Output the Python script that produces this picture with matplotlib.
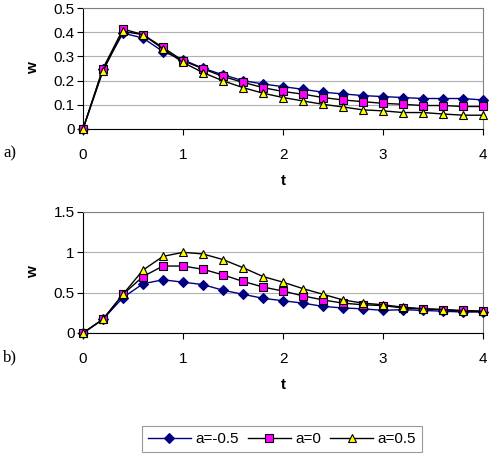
import matplotlib
matplotlib.use("Agg")
import matplotlib.pyplot as plt

t = [round(0.2 * i, 1) for i in range(21)]

# panel a)
wa_m05 = [0, 0.25, 0.396, 0.376, 0.32, 0.286, 0.251, 0.224, 0.2, 0.186, 0.175,
          0.164, 0.152, 0.145, 0.138, 0.134, 0.13, 0.126, 0.126, 0.126, 0.12]
wa_0 = [0, 0.25, 0.413, 0.39, 0.337, 0.282, 0.249, 0.217, 0.193, 0.171, 0.155,
        0.144, 0.13, 0.12, 0.113, 0.106, 0.102, 0.097, 0.097, 0.093, 0.093]
wa_05 = [0, 0.24, 0.403, 0.39, 0.331, 0.275, 0.233, 0.199, 0.171, 0.148, 0.13,
         0.116, 0.102, 0.091, 0.079, 0.075, 0.068, 0.068, 0.062, 0.057, 0.057]

# panel b)
wb_m05 = [0, 0.17, 0.44, 0.61, 0.66, 0.63, 0.6, 0.53, 0.48, 0.43, 0.40,
          0.37, 0.33, 0.31, 0.30, 0.28, 0.29, 0.28, 0.27, 0.26, 0.26]
wb_0 = [0, 0.17, 0.48, 0.70, 0.83, 0.83, 0.79, 0.72, 0.64, 0.57, 0.52,
        0.46, 0.41, 0.37, 0.35, 0.34, 0.31, 0.30, 0.29, 0.28, 0.27]
wb_05 = [0, 0.17, 0.48, 0.78, 0.95, 1.0, 0.98, 0.91, 0.81, 0.70, 0.63,
         0.55, 0.48, 0.41, 0.37, 0.35, 0.32, 0.30, 0.29, 0.27, 0.27]

labels = ["a=-0.5", "a=0", "a=0.5"]
xticks = [0, 1, 2, 3, 4]

plt.rcParams['font.family'] = ['Liberation Sans', 'DejaVu Sans']

W, H = 495, 455
fig = plt.figure(figsize=(W / 100, H / 100), dpi=100)

def add_ax(left, top, right, bottom):
    return fig.add_axes([left / W, 1 - bottom / H, (right - left) / W, (bottom - top) / H])

styles = [
    dict(color='#000080', marker='D', markerfacecolor='#000080', markeredgecolor='#000080', markersize=4.8),
    dict(color='black', marker='s', markerfacecolor='#FF00FF', markeredgecolor='black', markersize=5.3),
    dict(color='black', marker='^', markerfacecolor='#FFFF00', markeredgecolor='black', markersize=6.3),
]

def setup(ax, series, ymax, yticks, yticklabels, panel, panel_y):
    for s, st, lab in zip(series, styles, labels):
        ax.plot(t, s, lw=1.0, markeredgewidth=0.8, label=lab, clip_on=False, zorder=3, **st)
    ax.set_xlim(0, 4)
    ax.set_ylim(0, ymax)
    ax.set_xticks(xticks)
    ax.set_xticklabels([str(v) for v in xticks])
    ax.set_yticks(yticks)
    ax.set_yticklabels(yticklabels)
    ax.grid(axis='y', color='#b0b0b0', lw=0.8)
    ax.set_axisbelow(True)
    for sp in ['top', 'right']:
        ax.spines[sp].set_color('#808080')
        ax.spines[sp].set_linewidth(0.8)
    for sp in ['left', 'bottom']:
        ax.spines[sp].set_color('black')
        ax.spines[sp].set_linewidth(0.8)
    ax.tick_params(axis='x', direction='out', length=4, pad=10, labelsize=11, width=0.8)
    ax.tick_params(axis='y', direction='out', length=4, pad=2, labelsize=11, width=0.8)
    ax.set_xlabel('t', fontsize=11, fontweight='bold', labelpad=8)
    ax.set_ylabel('w', fontsize=11, fontweight='bold', labelpad=10)
    fig.text(3 / W, 1 - panel_y / H, panel, fontsize=12,
             family='Liberation Serif', ha='left', va='center')

ax1 = add_ax(83, 8, 483, 129)
setup(ax1, [wa_m05, wa_0, wa_05], 0.5, [0, 0.1, 0.2, 0.3, 0.4, 0.5],
      ['0', '0.1', '0.2', '0.3', '0.4', '0.5'], 'a)', 153)

ax2 = add_ax(83, 212, 483, 333)
setup(ax2, [wb_m05, wb_0, wb_05], 1.5, [0, 0.5, 1, 1.5],
      ['0', '0.5', '1', '1.5'], 'b)', 357)

handles, lbls = ax2.get_legend_handles_labels()
leg = fig.legend(handles, lbls, loc='center', bbox_to_anchor=(282 / W, 1 - 439 / H),
                 ncol=3, frameon=True, fancybox=False, fontsize=11,
                 handlelength=2.8, handletextpad=0.3, columnspacing=0.6,
                 borderpad=0.4, edgecolor='#808080')
leg.get_frame().set_linewidth(0.8)

fig.savefig('out.png', dpi=100)
